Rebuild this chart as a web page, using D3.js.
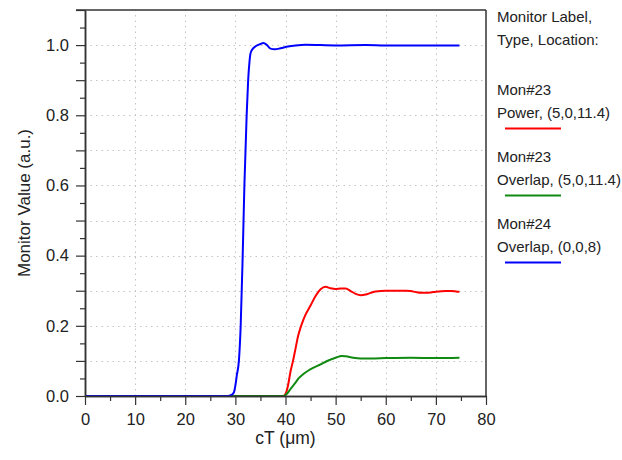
<!DOCTYPE html>
<html>
<head>
<meta charset="utf-8">
<script src="https://cdn.jsdelivr.net/npm/d3@7"></script>
<style>
  html, body { margin: 0; padding: 0; background: #fff; }
  svg { display: block; font-family: "Liberation Sans", Arial, sans-serif; }
</style>
</head>
<body>
<svg id="chart" width="622" height="460"></svg>
<script>
// ---- data ----
const xMajorTicks = [0, 10, 20, 30, 40, 50, 60, 70, 80];
const xMinorTicks = [5, 15, 25, 35, 45, 55, 65, 75];
const yMajorTicks = [0, 0.1, 0.2, 0.3, 0.4, 0.5, 0.6, 0.7, 0.8, 0.9, 1.0, 1.1];
const yMinorTicks = [0.05, 0.15, 0.25, 0.35, 0.45, 0.55, 0.65, 0.75, 0.85, 0.95, 1.05];
const yTickLabels = ["0.0", "0.2", "0.4", "0.6", "0.8", "1.0"];
const xTitle = "cT (\u03bcm)";
const yTitle = "Monitor Value (a.u.)";
const legendHeader = ["Monitor Label,", "Type, Location:"];

const seriesNames = [["Mon#23", "Power, (5,0,11.4)"], ["Mon#23", "Overlap, (5,0,11.4)"], ["Mon#24", "Overlap, (0,0,8)"]];
const seriesColors = ["#ff0000", "#108a10", "#0000ff"];

const powerX = [0, 39.5, 40, 40.5, 41, 41.5, 42, 42.5, 43, 43.5, 44, 45, 46, 47, 48, 49, 50, 51, 52, 53, 54, 55, 56, 57, 58, 60, 62, 64, 65, 66, 67, 68, 69, 70, 72, 73, 74, 74.7];
const powerY = [0, 0, 0.006, 0.03, 0.07, 0.1, 0.135, 0.17, 0.195, 0.215, 0.232, 0.258, 0.285, 0.304, 0.311, 0.307, 0.305, 0.306, 0.306, 0.299, 0.291, 0.287, 0.289, 0.294, 0.298, 0.300, 0.300, 0.300, 0.299, 0.296, 0.294, 0.294, 0.295, 0.297, 0.299, 0.299, 0.298, 0.297];

const overlap23X = [0, 39.5, 40, 40.5, 41, 42, 42.6, 43.5, 44.5, 45.6, 47, 48.2, 50, 51.2, 52, 53.5, 55, 57, 60, 65, 70, 74.7];
const overlap23Y = [0, 0, 0.003, 0.01, 0.02, 0.038, 0.05, 0.062, 0.072, 0.081, 0.09, 0.099, 0.109, 0.114, 0.113, 0.109, 0.107, 0.107, 0.108, 0.109, 0.108, 0.109];

const overlap24X = [0, 28.5, 29.2, 29.7, 30.0, 30.3, 30.7, 31.06, 31.46, 31.8, 32.25, 32.55, 32.8, 33.0, 33.3, 34.2, 35.0, 35.6, 36.3, 37.0, 37.9, 39, 40.5, 42, 44, 50, 56, 60, 74.7];
const overlap24Y = [0, 0, 0.003, 0.01, 0.03, 0.06, 0.1, 0.2, 0.4, 0.6, 0.8, 0.9, 0.95, 0.975, 0.986, 0.998, 1.003, 1.006, 1.0, 0.99, 0.988, 0.991, 0.996, 0.999, 1.001, 0.999, 1.0, 0.999, 0.999];

// ---- layout ----
const svg = d3.select("#chart");
const L = 85, R = 486, T = 10, B = 396;
const x = d3.scaleLinear().domain([0, 80]).range([L, R]);
const y = d3.scaleLinear().domain([0, 1.1]).range([B, T]);
const axisColor = "#333";
const textColor = "#222";

// grid
const grid = svg.append("g").attr("stroke", "#c4c4c4").attr("stroke-width", 1).attr("stroke-dasharray", "1.5,4");
grid.selectAll(".gx").data(xMajorTicks.slice(1, -1)).join("line")
  .attr("x1", d => Math.round(x(d)) + 0.5).attr("x2", d => Math.round(x(d)) + 0.5)
  .attr("y1", B).attr("y2", T);
grid.selectAll(".gy").data(yMajorTicks.slice(1, -1)).join("line")
  .attr("y1", d => Math.round(y(d)) + 0.5).attr("y2", d => Math.round(y(d)) + 0.5)
  .attr("x1", L).attr("x2", R);

// curves
const line = d3.line().x(d => x(d[0])).y(d => y(d[1])).curve(d3.curveMonotoneX);
const series = [
  d3.zip(powerX, powerY),
  d3.zip(overlap23X, overlap23Y),
  d3.zip(overlap24X, overlap24Y)
];
series.forEach((s, i) => {
  svg.append("path").datum(s).attr("d", line)
    .attr("fill", "none").attr("stroke", seriesColors[i])
    .attr("stroke-width", 2).attr("stroke-linejoin", "round");
});

// axes
function styleAxis(g) {
  g.select(".domain").attr("stroke", axisColor).attr("stroke-width", 1.5);
  g.selectAll(".tick line").attr("stroke", axisColor).attr("stroke-width", 1.2);
  g.selectAll("text").attr("fill", textColor).attr("font-size", 16.5)
    .attr("font-family", "Liberation Sans, Arial, sans-serif");
}
const yLabelFmt = d => { const s = d.toFixed(1); return yTickLabels.includes(s) ? s : ""; };
svg.append("g").attr("transform", `translate(${L},0)`)
  .call(d3.axisLeft(y).tickValues(yMajorTicks).tickSize(9).tickPadding(7).tickFormat(yLabelFmt).tickSizeOuter(0))
  .call(styleAxis);
svg.append("g").attr("transform", `translate(${L},0)`)
  .call(d3.axisLeft(y).tickValues(yMinorTicks).tickSize(5).tickFormat("").tickSizeOuter(0))
  .call(styleAxis);
svg.append("g").attr("transform", `translate(0,${B})`)
  .call(d3.axisBottom(x).tickValues(xMajorTicks).tickSize(9).tickPadding(8).tickFormat(d3.format("d")).tickSizeOuter(0))
  .call(styleAxis);
svg.append("g").attr("transform", `translate(0,${B})`)
  .call(d3.axisBottom(x).tickValues(xMinorTicks).tickSize(5).tickFormat("").tickSizeOuter(0))
  .call(styleAxis);
// frame top and right
svg.append("line").attr("x1", L - 9).attr("x2", R).attr("y1", T).attr("y2", T)
  .attr("stroke", axisColor).attr("stroke-width", 1.5);
svg.append("line").attr("x1", R).attr("x2", R).attr("y1", T).attr("y2", B)
  .attr("stroke", axisColor).attr("stroke-width", 1.5);

// titles
svg.append("text").attr("x", (L + R) / 2).attr("y", 444).attr("text-anchor", "middle")
  .attr("font-size", 17.5).attr("fill", textColor).text(xTitle);
svg.append("text").attr("transform", `translate(30,${(T + B) / 2}) rotate(-90)`)
  .attr("text-anchor", "middle").attr("font-size", 17).attr("fill", textColor).text(yTitle);

// legend
const lg = svg.append("g").attr("font-size", 15).attr("fill", textColor);
const lx = 497;
legendHeader.forEach((t, i) => lg.append("text").attr("x", lx).attr("y", 22 + i * 23).text(t));
seriesNames.forEach((names, i) => {
  const by = 95 + i * 67;
  lg.append("text").attr("x", lx).attr("y", by).text(names[0]);
  lg.append("text").attr("x", lx).attr("y", by + 22.5).text(names[1]);
  lg.append("line").attr("x1", 505).attr("x2", 561).attr("y1", by + 33.5).attr("y2", by + 33.5)
    .attr("stroke", seriesColors[i]).attr("stroke-width", 2);
});
</script>
</body>
</html>
